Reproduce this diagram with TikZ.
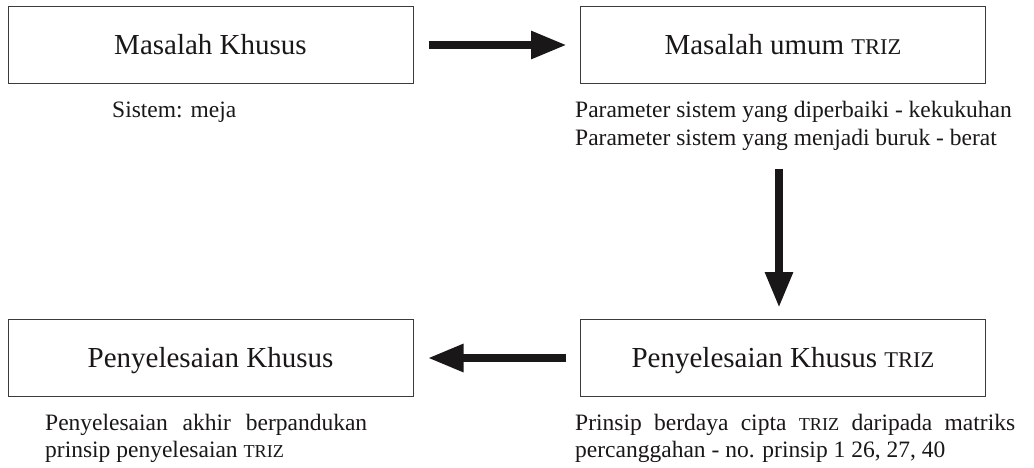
\documentclass[tikz,border=0pt]{standalone}
\usepackage{fontspec}
\setmainfont{Liberation Serif}
\usetikzlibrary{arrows.meta}
\definecolor{ink}{HTML}{1A1718}
\newcommand\trizL{{\fontsize{22.5pt}{22.5pt}\selectfont TRIZ}}
\newcommand\trizS{{\fontsize{18.2pt}{18.2pt}\selectfont TRIZ}}
\begin{document}
\begin{tikzpicture}[x=1pt,y=-1pt,
  box/.style={draw=ink!85, line width=1pt, minimum width=405pt, minimum height=77pt,
    inner sep=0pt, text height=19pt, text depth=0pt,
    font=\fontsize{29pt}{29pt}\selectfont, text=ink},
  lbl/.style={inner sep=0pt, anchor=base west, font=\fontsize{23.5pt}{27.5pt}\selectfont,
    text=ink, align=justify},
  bigarrow/.style={line width=8.5pt, draw=ink, -{Triangle[length=36pt,width=26pt]}}]
\fill[white] (0,0) rectangle (1034,467);
\useasboundingbox (0,0) rectangle (1034,467);
\node[box] (b1) at (210.5,45) {Masalah Khusus};
\node[box] (b2) at (783,45) {Masalah umum \trizL};
\node[box] (b3) at (210.5,358) {Penyelesaian Khusus};
\node[box] (b4) at (783,358) {Penyelesaian Khusus \trizL};
\draw[bigarrow, shorten <=15pt, shorten >=13pt] (b1.east) -- (b2.west);
\draw[bigarrow, shorten <=84.5pt, shorten >=11pt] ([xshift=-4pt]b2.south) -- ([xshift=-4pt]b4.north);
\draw[bigarrow, shorten <=14pt, shorten >=14pt] (b4.west) -- (b3.east);
\node[inner sep=0pt, anchor=base west, font=\fontsize{23.5pt}{27.5pt}\selectfont, text=ink] (l1) at (112,117) {Sistem: meja};
\node[lbl, text width=440pt, font=\fontsize{23.5pt}{28pt}\selectfont] (l2) at (575,117) {Parameter sistem yang diperbaiki - kekukuhan\\ Parameter sistem yang menjadi buruk - berat};
\node[lbl, text width=322pt] (l3) at (45,430) {Penyelesaian akhir berpandukan\linebreak prinsip penyelesaian \trizS};
\node[lbl, text width=440pt] (l4) at (575,430) {Prinsip berdaya cipta \trizS{} daripada matriks\linebreak percanggahan - no. prinsip 1 26, 27, 40};
\end{tikzpicture}
\end{document}
